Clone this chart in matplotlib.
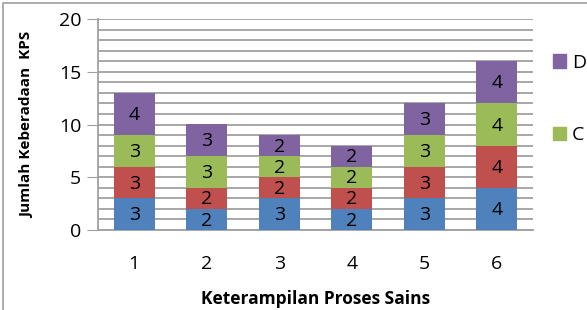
import matplotlib.pyplot as plt
from matplotlib.patches import Rectangle, Patch
import numpy as np

categories = ["1", "2", "3", "4", "5", "6"]
series_a = [3, 2, 3, 2, 3, 4]
series_b = [3, 2, 2, 2, 3, 4]
series_c = [3, 3, 2, 2, 3, 4]
series_d = [4, 3, 2, 2, 3, 4]
colors = ["#4F81BD", "#C0504D", "#9BBB59", "#8064A2"]

plt.rcParams['font.family'] = ['Open Sans', 'DejaVu Sans']

fig = plt.figure(figsize=(5.87, 3.10), dpi=100)
ax = fig.add_axes([98 / 587, 1 - 230 / 310, 435 / 587, 211 / 310])

x = np.arange(1, len(categories) + 1)
bottom = np.zeros(len(categories))
for vals, col in zip([series_a, series_b, series_c, series_d], colors):
    bars = ax.bar(x, vals, width=0.57, bottom=bottom, color=col, zorder=3)
    for b, v in zip(bars, vals):
        ax.text(b.get_x() + b.get_width() / 2, b.get_y() + b.get_height() / 2 - 0.1,
                str(v), ha="center", va="center", fontsize=14, color="black", zorder=4)
    bottom += np.array(vals)

ax.set_xlim(0.5, 6.5)
ax.set_ylim(0, 20)
ax.set_yticks([0, 5, 10, 15, 20])
ax.set_yticks(range(0, 21), minor=True)
ax.set_xticks(x)
ax.set_xticklabels(categories)
ax.yaxis.grid(True, which="both", color="#A0A0A0", linewidth=1.3, zorder=0)
ax.set_axisbelow(True)
for s in ["top", "right"]:
    ax.spines[s].set_visible(False)
ax.spines["left"].set_color("#A0A0A0")
ax.spines["bottom"].set_color("#A0A0A0")
ax.spines["left"].set_linewidth(1.3)
ax.spines["bottom"].set_linewidth(1.3)
ax.tick_params(axis="y", which="major", length=8, color="#A0A0A0", labelsize=14, pad=4)
ax.tick_params(axis="y", which="minor", length=0)
ax.tick_params(axis="x", length=0, labelsize=14, pad=18)

ax.set_xlabel("Keterampilan Proses Sains", fontsize=12.5, fontweight="bold", labelpad=12)
ax.set_ylabel("Jumlah Keberadaan  KPS", fontsize=11, fontweight="bold", labelpad=18)

handles = [Patch(color=colors[3]), Patch(color=colors[2])]
fig.legend(handles, ["D", "C"], loc="upper left", bbox_to_anchor=(543 / 587, 1 - 44 / 310),
           frameon=False, fontsize=14, handlelength=0.7, handleheight=0.7,
           handletextpad=0.3, labelspacing=2.8, borderpad=0)

fig.patches.append(Rectangle((3 / 587, -0.1), 1.1, 1.1 - 3 / 310, transform=fig.transFigure,
                             fill=False, edgecolor="#A0A0A0", linewidth=1.2))

fig.savefig("out.png", dpi=100)
